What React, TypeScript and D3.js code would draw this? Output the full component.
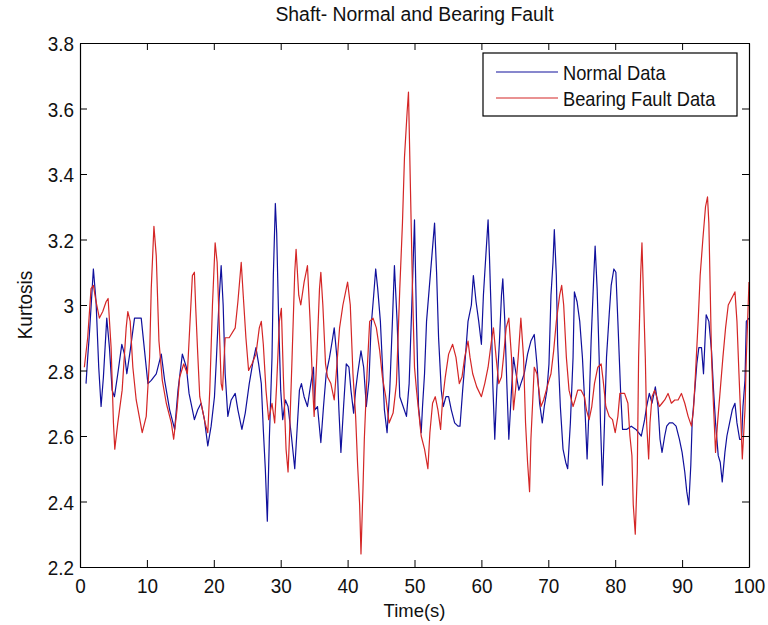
import { useEffect, useRef } from "react";
import * as d3 from "d3";

const width = 768;
const height = 625;

// [time, kurtosis]
const normalData: [number, number][] = [
  [0.9, 2.76], [1.15, 2.84], [1.4, 2.91], [2.0, 3.11], [2.4, 3.01], [2.8, 2.81], [3.15, 2.69], [3.5, 2.78],
  [4.0, 2.96], [4.4, 2.87], [4.8, 2.74], [5.15, 2.72], [5.65, 2.79], [6.25, 2.88], [6.65, 2.85], [7.0, 2.79],
  [7.5, 2.86], [8.15, 2.96], [9.15, 2.96], [9.65, 2.86], [10.15, 2.76], [10.65, 2.77], [11.4, 2.79], [12.15, 2.85],
  [12.65, 2.77], [13.4, 2.68], [14.15, 2.62], [14.65, 2.74], [15.3, 2.85], [15.9, 2.81], [16.3, 2.73], [17.1, 2.65],
  [17.6, 2.68], [18.1, 2.7], [18.6, 2.65], [19.1, 2.57], [19.6, 2.63], [20.1, 2.72], [20.4, 2.84], [20.8, 3.02],
  [21.1, 3.12], [21.4, 3.0], [21.7, 2.79], [22.1, 2.66], [22.6, 2.71], [23.2, 2.73], [23.6, 2.68], [24.2, 2.62],
  [24.7, 2.67], [25.3, 2.76], [25.8, 2.82], [26.3, 2.87], [26.7, 2.82], [27.1, 2.76], [27.4, 2.62], [27.7, 2.5],
  [28.0, 2.34], [28.3, 2.59], [28.7, 2.84], [28.9, 3.09], [29.2, 3.31], [29.4, 3.22], [29.7, 2.95], [30.0, 2.74],
  [30.3, 2.65], [30.7, 2.71], [31.1, 2.69], [31.6, 2.6], [32.1, 2.5], [32.8, 2.74], [33.1, 2.76], [33.5, 2.72],
  [34.0, 2.69], [34.5, 2.76], [34.9, 2.81], [35.1, 2.68], [35.5, 2.69], [36.0, 2.58], [36.4, 2.69], [36.8, 2.79],
  [37.3, 2.84], [37.7, 2.89], [38.0, 2.93], [38.4, 2.84], [38.7, 2.68], [39.0, 2.55], [39.4, 2.69], [39.8, 2.82],
  [40.2, 2.81], [40.5, 2.74], [40.9, 2.67], [41.2, 2.74], [41.5, 2.79], [42.0, 2.86], [42.4, 2.81], [42.8, 2.69],
  [43.2, 2.77], [43.5, 2.93], [43.9, 3.03], [44.2, 3.11], [44.5, 3.05], [44.9, 2.95], [45.2, 2.82], [45.5, 2.68],
  [45.9, 2.61], [46.3, 2.74], [46.7, 2.95], [47.0, 3.12], [47.4, 2.95], [47.8, 2.72], [48.3, 2.69], [48.8, 2.66],
  [49.2, 2.76], [49.6, 3.0], [50.0, 3.26], [50.3, 2.95], [50.6, 2.69], [51.0, 2.61], [51.2, 2.69], [51.5, 2.79],
  [51.8, 2.95], [52.2, 3.05], [52.6, 3.15], [53.0, 3.25], [53.3, 3.1], [53.6, 2.9], [54.0, 2.74], [54.3, 2.69],
  [54.7, 2.72], [55.1, 2.72], [55.5, 2.68], [56.0, 2.64], [56.5, 2.63], [56.8, 2.63], [57.2, 2.74], [57.6, 2.84],
  [58.0, 2.95], [58.5, 3.0], [58.8, 3.09], [59.2, 3.01], [59.6, 2.95], [60.0, 2.88], [60.3, 3.03], [60.6, 3.13],
  [61.0, 3.26], [61.2, 3.15], [61.5, 2.95], [61.7, 2.76], [62.0, 2.59], [62.3, 2.74], [62.7, 2.89], [63.0, 3.03],
  [63.2, 3.08], [63.5, 2.95], [63.8, 2.76], [64.1, 2.59], [64.5, 2.74], [64.8, 2.84], [65.1, 2.8], [65.6, 2.74],
  [65.9, 2.76], [66.4, 2.79], [66.9, 2.85], [67.4, 2.89], [67.9, 2.91], [68.3, 2.82], [68.7, 2.7], [69.1, 2.64],
  [69.4, 2.69], [69.8, 2.74], [70.1, 2.82], [70.4, 3.03], [70.7, 3.13], [70.9, 3.23], [71.2, 3.09], [71.4, 2.88],
  [71.8, 2.69], [72.2, 2.56], [72.6, 2.52], [72.9, 2.5], [73.3, 2.64], [73.7, 2.84], [73.9, 3.04], [74.3, 3.01],
  [74.7, 2.95], [75.1, 2.84], [75.4, 2.72], [75.8, 2.53], [76.1, 2.69], [76.4, 2.89], [76.8, 3.09], [77.0, 3.18],
  [77.3, 3.05], [77.6, 2.84], [77.8, 2.64], [78.1, 2.45], [78.4, 2.64], [78.7, 2.84], [79.1, 2.97], [79.4, 3.06],
  [79.8, 3.11], [80.1, 3.1], [80.4, 2.95], [80.8, 2.74], [81.1, 2.62], [81.7, 2.62], [82.4, 2.63], [83.1, 2.62],
  [83.9, 2.6], [84.4, 2.65], [84.7, 2.69], [85.1, 2.73], [85.5, 2.7], [86.0, 2.75], [86.4, 2.69], [86.7, 2.59],
  [87.0, 2.55], [87.4, 2.6], [87.7, 2.63], [88.1, 2.64], [88.6, 2.64], [89.1, 2.63], [89.6, 2.59], [90.0, 2.55],
  [90.4, 2.49], [90.7, 2.43], [91.0, 2.39], [91.3, 2.51], [91.5, 2.64], [91.9, 2.74], [92.2, 2.82], [92.5, 2.87],
  [92.9, 2.87], [93.2, 2.79], [93.6, 2.97], [94.0, 2.95], [94.4, 2.86], [94.7, 2.74], [95.0, 2.64], [95.4, 2.54],
  [95.7, 2.52], [96.0, 2.46], [96.4, 2.55], [96.7, 2.6], [97.1, 2.64], [97.5, 2.68], [97.9, 2.7], [98.2, 2.64],
  [98.6, 2.59], [98.9, 2.59], [99.1, 2.69], [99.4, 2.77], [99.6, 2.95], [100, 2.96],
];

const faultData: [number, number][] = [
  [0.65, 2.81], [1.15, 2.9], [1.65, 3.05], [2.0, 3.06], [2.4, 3.01], [2.9, 2.96], [3.4, 2.98], [3.9, 3.01],
  [4.2, 3.02], [4.65, 2.87], [5.0, 2.64], [5.2, 2.56], [5.65, 2.64], [6.3, 2.74], [6.9, 2.93], [7.15, 2.98],
  [7.5, 2.95], [7.9, 2.81], [8.4, 2.71], [9.3, 2.61], [9.9, 2.66], [10.4, 2.84], [10.65, 3.05], [11.05, 3.24],
  [11.4, 3.15], [11.8, 2.89], [12.3, 2.77], [12.9, 2.7], [13.65, 2.64], [14.0, 2.59], [14.5, 2.68], [14.9, 2.78],
  [15.5, 2.82], [16.05, 2.79], [16.4, 2.93], [16.8, 3.09], [17.1, 3.1], [17.3, 2.99], [17.6, 2.85], [17.9, 2.72],
  [18.3, 2.68], [18.7, 2.64], [19.1, 2.61], [19.4, 2.74], [19.8, 3.0], [20.2, 3.19], [20.5, 3.13], [20.7, 3.01],
  [21.1, 2.76], [21.3, 2.74], [21.7, 2.9], [22.3, 2.9], [23.2, 2.93], [23.6, 3.01], [24.1, 3.13], [24.4, 3.03],
  [24.8, 2.9], [25.2, 2.8], [25.7, 2.82], [26.3, 2.85], [26.8, 2.93], [27.1, 2.95], [27.4, 2.88], [27.8, 2.74],
  [28.2, 2.65], [28.7, 2.7], [29.1, 2.64], [29.4, 2.76], [29.8, 2.95], [30.1, 2.99], [30.4, 2.78], [30.8, 2.56],
  [31.1, 2.49], [31.3, 2.59], [31.7, 2.84], [32.1, 3.1], [32.3, 3.17], [32.7, 3.03], [33.0, 3.0], [33.5, 3.07],
  [34.0, 3.12], [34.4, 2.95], [34.8, 2.74], [35.0, 2.66], [35.4, 2.84], [35.8, 3.05], [36.0, 3.1], [36.3, 3.0],
  [36.7, 2.82], [37.0, 2.78], [37.5, 2.76], [38.0, 2.71], [38.3, 2.79], [38.8, 2.93], [39.3, 3.0], [39.8, 3.05],
  [40.0, 3.07], [40.4, 3.0], [40.8, 2.79], [41.2, 2.66], [41.5, 2.51], [41.8, 2.39], [42.0, 2.24], [42.3, 2.44],
  [42.5, 2.59], [42.9, 2.79], [43.3, 2.95], [43.8, 2.96], [44.3, 2.93], [44.8, 2.86], [45.2, 2.78], [45.7, 2.72],
  [46.2, 2.64], [46.8, 2.67], [47.3, 2.76], [47.8, 3.05], [48.2, 3.25], [48.5, 3.45], [48.9, 3.59], [49.1, 3.65],
  [49.4, 3.35], [49.7, 3.05], [50.0, 2.81], [50.3, 2.74], [50.7, 2.66], [51.0, 2.6], [51.5, 2.56], [52.0, 2.5],
  [52.3, 2.61], [52.7, 2.7], [53.1, 2.72], [53.5, 2.68], [53.9, 2.62], [54.2, 2.71], [54.6, 2.78], [55.1, 2.85],
  [55.7, 2.88], [56.2, 2.84], [56.7, 2.76], [57.1, 2.78], [57.5, 2.84], [58.0, 2.89], [58.3, 2.84], [58.7, 2.79],
  [59.3, 2.75], [60.0, 2.72], [60.5, 2.76], [61.0, 2.81], [61.5, 2.89], [61.8, 2.93], [62.2, 2.84], [62.6, 2.76],
  [63.0, 2.78], [63.3, 2.84], [63.7, 2.93], [64.1, 2.96], [64.5, 2.84], [64.8, 2.68], [65.1, 2.74], [65.5, 2.84],
  [65.9, 2.96], [66.3, 2.84], [66.6, 2.64], [66.9, 2.52], [67.2, 2.43], [67.4, 2.59], [67.7, 2.72], [67.9, 2.81],
  [68.3, 2.79], [68.6, 2.74], [68.9, 2.69], [69.3, 2.71], [69.7, 2.74], [70.1, 2.77], [70.4, 2.79], [70.8, 2.86],
  [71.2, 2.95], [71.7, 3.03], [72.0, 3.06], [72.3, 3.0], [72.7, 2.84], [73.1, 2.74], [73.7, 2.69], [74.0, 2.71],
  [74.4, 2.74], [74.9, 2.74], [75.4, 2.72], [75.7, 2.68], [76.1, 2.65], [76.5, 2.69], [76.9, 2.76], [77.4, 2.81],
  [77.9, 2.82], [78.2, 2.77], [78.6, 2.69], [79.1, 2.66], [79.6, 2.65], [80.0, 2.61], [80.4, 2.66], [80.7, 2.73],
  [81.4, 2.73], [81.9, 2.7], [82.2, 2.6], [82.5, 2.54], [82.7, 2.39], [83.0, 2.3], [83.3, 2.49], [83.5, 2.84],
  [83.8, 3.09], [84.0, 3.19], [84.2, 3.05], [84.5, 2.84], [84.7, 2.64], [85.0, 2.53], [85.2, 2.64], [85.5, 2.72],
  [85.9, 2.74], [86.2, 2.72], [86.6, 2.69], [87.0, 2.7], [87.4, 2.71], [87.9, 2.73], [88.4, 2.7], [88.9, 2.71],
  [89.4, 2.71], [89.9, 2.73], [90.4, 2.7], [90.9, 2.66], [91.4, 2.63], [91.7, 2.68], [92.0, 2.79], [92.4, 2.95],
  [92.7, 3.09], [93.1, 3.2], [93.5, 3.3], [93.8, 3.33], [94.0, 3.25], [94.2, 3.05], [94.4, 2.84], [94.7, 2.69],
  [95.0, 2.55], [95.3, 2.64], [95.7, 2.74], [96.1, 2.84], [96.5, 2.93], [96.9, 3.0], [97.4, 3.02], [97.9, 3.04],
  [98.2, 2.95], [98.5, 2.79], [98.8, 2.64], [99.0, 2.53], [99.4, 2.68], [99.6, 2.84], [100, 3.07],
];

const xTicks = [0, 10, 20, 30, 40, 50, 60, 70, 80, 90, 100];
const yTicks = [2.2, 2.4, 2.6, 2.8, 3.0, 3.2, 3.4, 3.6, 3.8];
const seriesNames = ["Normal Data", "Bearing Fault Data"];
const seriesColors = ["#10109c", "#d42626"];

const font = "'Liberation Sans', Arial, sans-serif";

// squeeze text horizontally so it looks like the narrow MATLAB font
const narrow = (sel: d3.Selection<any, any, any, any>, f: number) => {
  sel.each(function (this: SVGTextElement) {
    const len = this.getComputedTextLength();
    this.setAttribute("textLength", String(len * f));
    this.setAttribute("lengthAdjust", "spacingAndGlyphs");
  });
};

const App = () => {
  const chartRef = useRef<SVGSVGElement>(null);

  useEffect(() => {
    drawChart();
  }, []);

  const drawChart = () => {
    const svg = d3.select(chartRef.current);
    svg.selectAll("*").remove();

    const left = 80, right = 749, top = 43, bottom = 567;

    const x = d3.scaleLinear().domain([0, 100]).range([left, right]);
    const y = d3.scaleLinear().domain([2.2, 3.8]).range([bottom, top]);

    svg.append("rect").attr("width", width).attr("height", height).attr("fill", "#fff");

    // plot lines
    const line = d3.line<[number, number]>()
      .x(d => x(d[0]))
      .y(d => y(d[1]));

    [normalData, faultData].forEach((data, i) => {
      svg.append("path")
        .datum(data)
        .attr("d", line)
        .attr("fill", "none")
        .attr("stroke", seriesColors[i])
        .attr("stroke-width", 1.2)
        .attr("stroke-linejoin", "round");
    });

    const tickLen = 7;
    const fmt = (d: number) => String(+d.toFixed(1));

    // box axes with inward ticks, MATLAB style
    const axisBottom = svg.append("g")
      .attr("transform", `translate(0,${bottom})`)
      .call(d3.axisBottom(x).tickValues(xTicks).tickSizeInner(-tickLen).tickSizeOuter(0).tickPadding(15).tickFormat(d => fmt(+d)));
    const axisTop = svg.append("g")
      .attr("transform", `translate(0,${top})`)
      .call(d3.axisTop(x).tickValues(xTicks).tickSizeInner(-tickLen).tickSizeOuter(0).tickFormat(() => ""));
    const axisLeft = svg.append("g")
      .attr("transform", `translate(${left},0)`)
      .call(d3.axisLeft(y).tickValues(yTicks).tickSizeInner(-tickLen).tickSizeOuter(0).tickPadding(6).tickFormat(d => fmt(+d)));
    const axisRight = svg.append("g")
      .attr("transform", `translate(${right},0)`)
      .call(d3.axisRight(y).tickValues(yTicks).tickSizeInner(-tickLen).tickSizeOuter(0).tickFormat(() => ""));

    [axisBottom, axisTop, axisLeft, axisRight].forEach(g => {
      g.select(".domain").attr("stroke", "#000").attr("stroke-width", 1.2);
      g.selectAll(".tick line").attr("stroke", "#000").attr("stroke-width", 1);
      g.selectAll(".tick text")
        .attr("fill", "#111")
        .style("font-family", font)
        .style("font-size", "21px");
    });
    axisBottom.selectAll(".tick text").attr("dy", "0.5em");
    axisLeft.selectAll(".tick text").attr("dy", "0.36em");
    narrow(axisBottom.selectAll(".tick text"), 0.9);
    narrow(axisLeft.selectAll(".tick text"), 0.9);

    // title and axis labels
    const title = svg.append("text")
      .attr("x", (left + right) / 2)
      .attr("y", 21)
      .attr("text-anchor", "middle")
      .style("font-family", font)
      .style("font-size", "20px")
      .attr("fill", "#111")
      .text("Shaft- Normal and Bearing Fault");
    narrow(title, 0.97);

    const xLabel = svg.append("text")
      .attr("x", (left + right) / 2)
      .attr("y", 617)
      .attr("text-anchor", "middle")
      .style("font-family", font)
      .style("font-size", "19px")
      .attr("fill", "#111")
      .text("Time(s)");
    narrow(xLabel, 0.97);

    const yLabel = svg.append("text")
      .attr("transform", `translate(32,${(top + bottom) / 2}) rotate(-90)`)
      .attr("text-anchor", "middle")
      .style("font-family", font)
      .style("font-size", "20px")
      .attr("fill", "#111")
      .text("Kurtosis");
    narrow(yLabel, 0.95);

    // legend
    const lg = svg.append("g");
    lg.append("rect")
      .attr("x", 483).attr("y", 53)
      .attr("width", 254).attr("height", 63)
      .attr("fill", "#fff")
      .attr("stroke", "#000")
      .attr("stroke-width", 1.2);

    seriesNames.forEach((name, i) => {
      const ly = 72 + i * 26;
      lg.append("line")
        .attr("x1", 496).attr("x2", 558)
        .attr("y1", ly).attr("y2", ly)
        .attr("stroke", seriesColors[i])
        .attr("stroke-width", 1.2);
      const t = lg.append("text")
        .attr("x", 563).attr("y", ly)
        .attr("dy", "0.36em")
        .style("font-family", font)
        .style("font-size", "21px")
        .attr("fill", "#111")
        .text(name);
      narrow(t, 0.87);
    });
  };

  return (
    <div style={{ position: "absolute", left: 0, top: 0 }}>
      <svg ref={chartRef} width={width} height={height}></svg>
    </div>
  );
};

export default App;
